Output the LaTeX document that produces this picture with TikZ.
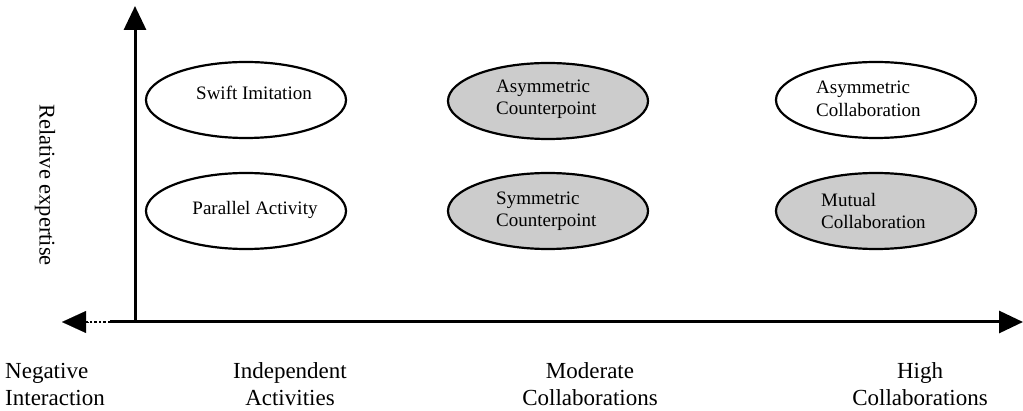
\documentclass[tikz,border=0pt]{standalone}
\usepackage{fontspec}
\setmainfont{Liberation Serif}
\usetikzlibrary{arrows.meta,shapes.geometric}
\tikzset{
  axis/.style={line width=3pt},
  tipstyle/.style={-{Triangle[length=24pt,width=22pt]}},
  oval/.style={draw, ellipse, line width=2.2pt, minimum width=200pt, minimum height=76pt, inner sep=0pt},
  shaded/.style={oval, fill=black!20},
  intext/.style={font=\fontsize{19}{22.5}\selectfont, align=left, inner sep=0pt},
  axlabel/.style={font=\fontsize{23}{27}\selectfont, align=center, inner sep=0pt},
}
\begin{document}
\begin{tikzpicture}[x=1pt,y=-1pt]
\useasboundingbox (0,0) rectangle (1023,411);
% axes
\coordinate (origin) at (135,322);
\coordinate (ytop) at (135,6);
\coordinate (xright) at (1023,322);
\coordinate (xdot) at (110,322);
\coordinate (xleft) at (62,322);
\draw[axis,tipstyle] (origin) -- (ytop);
\draw[axis,tipstyle] (xdot) -- (xright);
\draw[line width=2.4pt, dotted, shorten >=20pt] (xdot) -- (xleft);
\draw[tipstyle, line width=0.1pt] ([xshift=-21pt]xdot) -- (xleft);
% ellipses
\node[oval]   (si) at (246,100) {};
\node[shaded] (ac) at (548,101) {};
\node[oval]   (aco) at (876,100) {};
\node[oval]   (pa) at (246,211) {};
\node[shaded] (sc) at (548,211) {};
\node[shaded] (mc) at (876,211) {};
% texts
\node[intext] (si-t) at (254,93) {Swift Imitation};
\node[intext, anchor=west] (ac-t) at (496,99) {Asymmetric\\Counterpoint};
\node[intext, anchor=west] (aco-t) at (816,99) {Asymmetric\\Collaboration};
\node[intext] (pa-t) at (255,210) {Parallel Activity};
\node[intext, anchor=west] (sc-t) at (496,211) {Symmetric\\Counterpoint};
\node[intext, anchor=west] (mc-t) at (821,211) {Mutual\\Collaboration};
% axis labels
\node[axlabel, font=\fontsize{22.5}{27}\selectfont, rotate=-90] (rel) at (45,185) {Relative expertise};
\node[axlabel, align=left, anchor=west] (neg) at (5,384) {Negative\\Interaction};
\node[axlabel] (ind) at (290,384) {Independent\\Activities};
\node[axlabel] (mod) at (590,384) {Moderate\\Collaborations};
\node[axlabel] (high) at (920,384) {High\\Collaborations};
\end{tikzpicture}
\end{document}
